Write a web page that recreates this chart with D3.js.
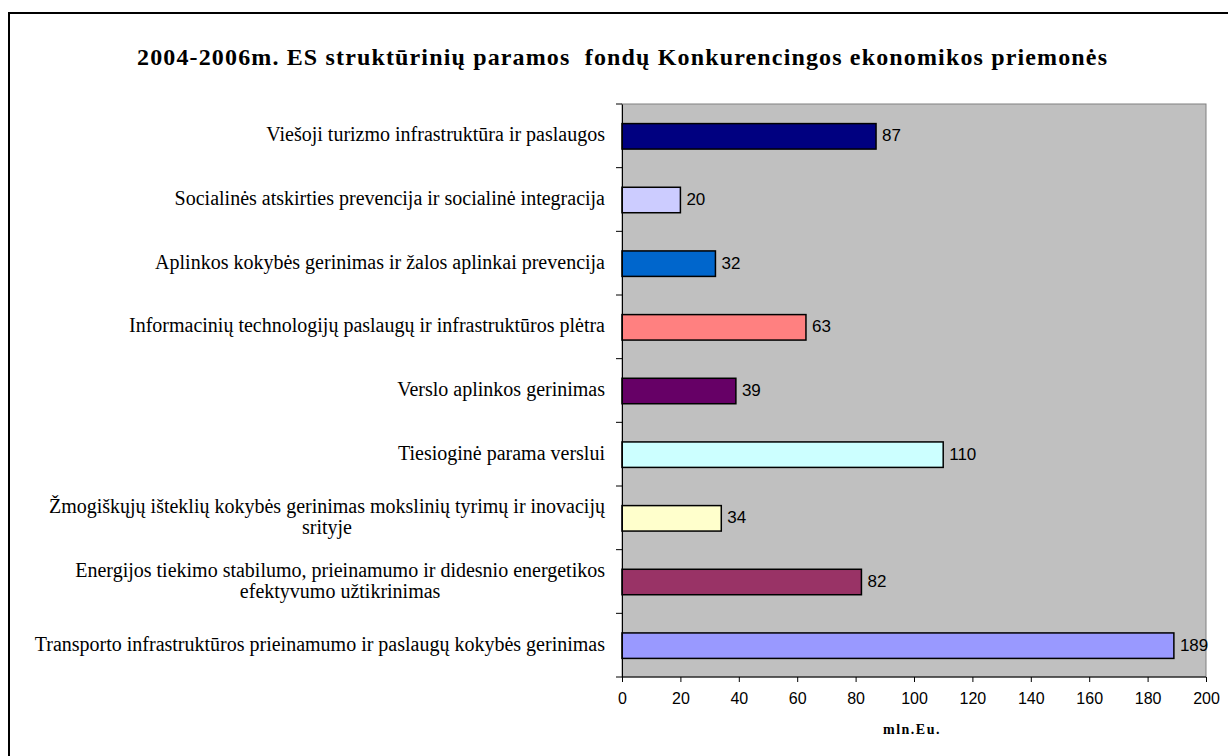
<!DOCTYPE html>
<html><head><meta charset="utf-8">
<script src="https://cdn.jsdelivr.net/npm/d3@7"></script>
<style>body{margin:0;background:#fff}svg{display:block}</style>
</head><body>
<svg id="c" width="1228" height="756"></svg>
<script>
const categories = [
  "Viešoji turizmo infrastruktūra ir paslaugos",
  "Socialinės atskirties prevencija ir socialinė integracija",
  "Aplinkos kokybės gerinimas ir žalos aplinkai prevencija",
  "Informacinių technologijų paslaugų ir infrastruktūros plėtra",
  "Verslo aplinkos gerinimas",
  "Tiesioginė parama verslui",
  "Žmogiškųjų išteklių kokybės gerinimas mokslinių tyrimų ir inovacijų|srityje",
  "Energijos tiekimo stabilumo, prieinamumo ir didesnio energetikos|efektyvumo užtikrinimas",
  "Transporto infrastruktūros prieinamumo ir paslaugų kokybės gerinimas"
];
const values = [87, 20, 32, 63, 39, 110, 34, 82, 189];
const colors = ["#000080","#CCCCFF","#0066CC","#FF8080","#660066","#CCFFFF","#FFFFCC","#993366","#9999FF"];
const xTicks = [0,20,40,60,80,100,120,140,160,180,200];
const title = "2004-2006m. ES struktūrinių paramos  fondų Konkurencingos ekonomikos priemonės";
const xTitle = "mln.Eu.";

const svg = d3.select("#c");
const serif = "'Liberation Serif','Times New Roman',serif";
const sans = "'Liberation Sans',Arial,sans-serif";
// outer chart border
svg.append("rect").attr("x",9).attr("y",13).attr("width",1240).attr("height",760)
  .attr("fill","#fff").attr("stroke","#000").attr("stroke-width",2);

const L = 622, R = 1206, T = 104, B = 677;
const x = d3.scaleLinear().domain([0,200]).range([L,R]);
const y = d3.scaleBand().domain(categories).range([T,B]).paddingInner(0.6).paddingOuter(0.3);
const yb = d3.scaleBand().domain(categories).range([T,B]);

svg.append("rect").attr("x",L).attr("y",T).attr("width",R-L).attr("height",B-T)
  .attr("fill","#C0C0C0").attr("stroke","#808080").attr("stroke-width",1);

svg.append("text").attr("x",622).attr("y",65).attr("text-anchor","middle")
  .attr("font-family",serif).attr("font-weight","bold").attr("font-size",24)
  .attr("textLength",970).attr("lengthAdjust","spacing")
  .style("white-space","pre")
  .text(title);

// bars
svg.selectAll("rect.bar").data(values).enter().append("rect").attr("class","bar")
  .attr("x",x(0)).attr("y",(d,i)=>y(categories[i])+0.5)
  .attr("width",d=>x(d)-x(0)).attr("height",y.bandwidth())
  .attr("fill",(d,i)=>colors[i]).attr("stroke","#000").attr("stroke-width",1.5);

// value labels
svg.selectAll("text.val").data(values).enter().append("text").attr("class","val")
  .attr("x",d=>x(d)+6).attr("y",(d,i)=>y(categories[i])+y.bandwidth()/2+1)
  .attr("dominant-baseline","middle")
  .attr("font-family",sans).attr("font-size",17).attr("fill","#000")
  .text(d=>d);

// y axis
const yAxis = d3.axisLeft(yb).tickSize(0).tickFormat("");
const gy = svg.append("g").attr("transform",`translate(${L},0)`).call(yAxis);
gy.select(".domain").attr("stroke","#000");
const bounds = categories.map(c=>yb(c)).concat([B]);
svg.selectAll("line.yt").data(bounds).enter().append("line")
  .attr("x1",L-6).attr("x2",L).attr("y1",d=>d).attr("y2",d=>d).attr("stroke","#000");

// category labels
categories.forEach((c,i)=>{
  const lines = c.split("|");
  const cy = yb(c)+yb.bandwidth()/2 + 1;
  const g = svg.append("g");
  const lh = 21;
  const ts = lines.map((ln,j)=>g.append("text")
    .attr("y", cy + (j-(lines.length-1)/2)*lh)
    .attr("dominant-baseline","middle")
    .attr("font-family",serif).attr("font-size",20).attr("fill","#000")
    .text(ln));
  const widths = ts.map(t=>t.node().getComputedTextLength());
  const mw = d3.max(widths);
  const rx = 605;
  ts.forEach((t,j)=>{
    if(lines.length===1){ t.attr("x",rx).attr("text-anchor","end"); }
    else { t.attr("x",rx-mw/2).attr("text-anchor","middle"); }
  });
});

// x axis
const xAxis = d3.axisBottom(x).tickValues(xTicks).tickSize(5).tickPadding(11);
const gx = svg.append("g").attr("transform",`translate(0,${B})`).call(xAxis);
gx.select(".domain").remove();
gx.selectAll("line").attr("stroke","#000");
gx.append("line").attr("x1",L).attr("x2",R).attr("stroke","#000");
gx.selectAll("text").attr("font-family",sans).attr("font-size",16).attr("fill","#000");

svg.append("text").attr("x",912).attr("y",734).attr("text-anchor","middle")
  .attr("font-family",serif).attr("font-weight","bold").attr("font-size",14)
  .attr("letter-spacing",1.5).text(xTitle);
</script>
</body></html>
